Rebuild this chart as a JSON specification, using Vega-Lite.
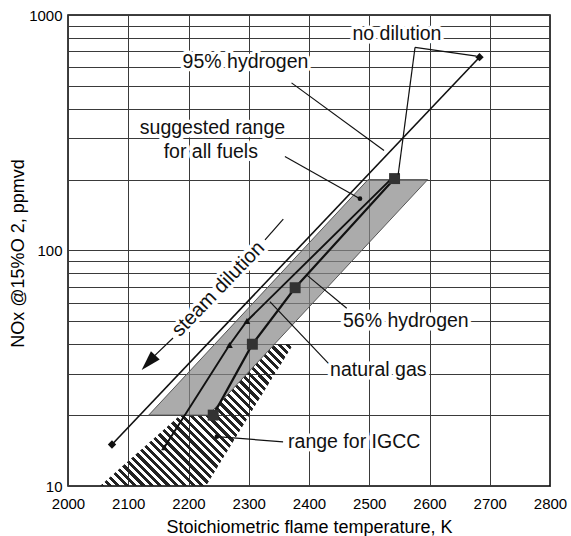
{
  "$schema": "https://vega.github.io/schema/vega-lite/v6.json",
  "width": 482,
  "height": 471,
  "autosize": {"type": "none"},
  "padding": {"left": 68, "top": 15, "right": 21, "bottom": 50},
  "background": "white",
  "config": {
    "view": {"stroke": "#000", "strokeWidth": 1.5},
    "font": "Liberation Sans",
    "axis": {
      "labelFont": "Liberation Sans", "titleFont": "Liberation Sans",
      "labelColor": "#000", "titleColor": "#000",
      "labelFontSize": 15, "titleFontSize": 18, "titleFontWeight": "normal",
      "ticks": false, "domain": false,
      "gridColor": "#3a3a3a", "gridWidth": 1, "gridOpacity": 1
    }
  },
  "datasets": {
    "igcc": [
      {"y": 10, "x": 2053, "x2": 2229},
      {"y": 19.99, "x": 2186, "x2": 2301},
      {"y": 20, "x": 2233, "x2": 2301},
      {"y": 40, "x": 2343, "x2": 2374}
    ],
    "suggested": [
      {"y": 20, "x": 2134, "x2": 2233},
      {"y": 200, "x": 2498, "x2": 2597}
    ],
    "series": [
      {"series": "95% hydrogen", "x": 2073, "y": 15},
      {"series": "95% hydrogen", "x": 2683, "y": 662},
      {"series": "natural gas", "x": 2160, "y": 14.6},
      {"series": "natural gas", "x": 2268, "y": 39.7},
      {"series": "natural gas", "x": 2297, "y": 50.2},
      {"series": "natural gas", "x": 2537, "y": 202},
      {"series": "56% hydrogen", "x": 2241, "y": 20},
      {"series": "56% hydrogen", "x": 2306, "y": 40},
      {"series": "56% hydrogen", "x": 2377, "y": 69.5},
      {"series": "56% hydrogen", "x": 2542, "y": 202}
    ],
    "dots": [
      {"x": 2484.6, "y": 166},
      {"x": 2247, "y": 16.2}
    ],
    "leaders": [
      {"seg": "a", "x": 2576, "y": 729}, {"seg": "a", "x": 2678, "y": 669},
      {"seg": "b", "x": 2548, "y": 210}, {"seg": "b", "x": 2576, "y": 729},
      {"seg": "c", "x": 2371, "y": 515}, {"seg": "c", "x": 2524.5, "y": 266},
      {"seg": "d", "x": 2360, "y": 250.6}, {"seg": "d", "x": 2484.6, "y": 166},
      {"seg": "e", "x": 2396, "y": 78.8}, {"seg": "e", "x": 2462.6, "y": 56.9},
      {"seg": "f", "x": 2335, "y": 60.7}, {"seg": "f", "x": 2435, "y": 32.6},
      {"seg": "g", "x": 2247, "y": 16.2}, {"seg": "g", "x": 2357, "y": 15.4},
      {"seg": "h", "x": 2327, "y": 111}, {"seg": "h", "x": 2357.3, "y": 136},
      {"seg": "i", "x": 2140, "y": 35}, {"seg": "i", "x": 2174.3, "y": 42.5}
    ],
    "arrowhead": [{"x": 2133.6, "y": 33.4}],
    "labels": [
      {"x": 2546, "y": 828, "text": "no dilution"},
      {"x": 2294.6, "y": 631, "text": "95% hydrogen"},
      {"x": 2239.8, "y": 332.5, "text": "suggested range"},
      {"x": 2237, "y": 263, "text": "for all fuels"},
      {"x": 2560.7, "y": 50, "text": "56% hydrogen"},
      {"x": 2515, "y": 31.1, "text": "natural gas"},
      {"x": 2475, "y": 15.4, "text": "range for IGCC"}
    ],
    "steam": [{"x": 2249.5, "y": 68.6, "text": "steam dilution"}]
  },
  "encoding": {
    "x": {
      "field": "x", "type": "quantitative",
      "scale": {"domain": [2000, 2800], "nice": false, "zero": false},
      "axis": {
        "title": "Stoichiometric flame temperature, K",
        "values": [2000, 2100, 2200, 2300, 2400, 2500, 2600, 2700, 2800],
        "format": "d", "labelFlush": false, "labelPadding": 10,
        "titleX": 241, "titleY": 41, "titleBaseline": "middle", "titleAlign": "center"
      }
    },
    "y": {
      "field": "y", "type": "quantitative",
      "scale": {"type": "log", "domain": [10, 1000], "nice": false},
      "axis": {
        "title": "NOx @15%O 2, ppmvd",
        "values": [10, 20, 30, 40, 50, 60, 70, 80, 90, 100, 200, 300, 400, 500, 600, 700, 800, 900, 1000],
        "format": "d",
        "labelExpr": "datum.value == 10 || datum.value == 100 || datum.value == 1000 ? datum.label : ''",
        "labelPadding": 6,
        "titleX": -50, "titleY": 238, "titleAngle": -90, "titleAlign": "center", "titleBaseline": "middle"
      }
    }
  },
  "layer": [
    {
      "data": {"name": "igcc"},
      "mark": {
        "type": "area", "orient": "horizontal",
        "fill": {
          "gradient": "linear", "x1": 0, "y1": 1, "x2": 1.127, "y2": 0.174,
          "stops": [
            {"offset": 0, "color": "#222"},
            {"offset": 0.0125, "color": "#222"}, {"offset": 0.0125, "color": "rgba(255,255,255,0)"},
            {"offset": 0.025, "color": "rgba(255,255,255,0)"}, {"offset": 0.025, "color": "#222"},
            {"offset": 0.0375, "color": "#222"}, {"offset": 0.0375, "color": "rgba(255,255,255,0)"},
            {"offset": 0.05, "color": "rgba(255,255,255,0)"}, {"offset": 0.05, "color": "#222"},
            {"offset": 0.0625, "color": "#222"}, {"offset": 0.0625, "color": "rgba(255,255,255,0)"},
            {"offset": 0.075, "color": "rgba(255,255,255,0)"}, {"offset": 0.075, "color": "#222"},
            {"offset": 0.0875, "color": "#222"}, {"offset": 0.0875, "color": "rgba(255,255,255,0)"},
            {"offset": 0.1, "color": "rgba(255,255,255,0)"}, {"offset": 0.1, "color": "#222"},
            {"offset": 0.1125, "color": "#222"}, {"offset": 0.1125, "color": "rgba(255,255,255,0)"},
            {"offset": 0.125, "color": "rgba(255,255,255,0)"}, {"offset": 0.125, "color": "#222"},
            {"offset": 0.1375, "color": "#222"}, {"offset": 0.1375, "color": "rgba(255,255,255,0)"},
            {"offset": 0.15, "color": "rgba(255,255,255,0)"}, {"offset": 0.15, "color": "#222"},
            {"offset": 0.1625, "color": "#222"}, {"offset": 0.1625, "color": "rgba(255,255,255,0)"},
            {"offset": 0.175, "color": "rgba(255,255,255,0)"}, {"offset": 0.175, "color": "#222"},
            {"offset": 0.1875, "color": "#222"}, {"offset": 0.1875, "color": "rgba(255,255,255,0)"},
            {"offset": 0.2, "color": "rgba(255,255,255,0)"}, {"offset": 0.2, "color": "#222"},
            {"offset": 0.2125, "color": "#222"}, {"offset": 0.2125, "color": "rgba(255,255,255,0)"},
            {"offset": 0.225, "color": "rgba(255,255,255,0)"}, {"offset": 0.225, "color": "#222"},
            {"offset": 0.2375, "color": "#222"}, {"offset": 0.2375, "color": "rgba(255,255,255,0)"},
            {"offset": 0.25, "color": "rgba(255,255,255,0)"}, {"offset": 0.25, "color": "#222"},
            {"offset": 0.2625, "color": "#222"}, {"offset": 0.2625, "color": "rgba(255,255,255,0)"},
            {"offset": 0.275, "color": "rgba(255,255,255,0)"}, {"offset": 0.275, "color": "#222"},
            {"offset": 0.2875, "color": "#222"}, {"offset": 0.2875, "color": "rgba(255,255,255,0)"},
            {"offset": 0.3, "color": "rgba(255,255,255,0)"}, {"offset": 0.3, "color": "#222"},
            {"offset": 0.3125, "color": "#222"}, {"offset": 0.3125, "color": "rgba(255,255,255,0)"},
            {"offset": 0.325, "color": "rgba(255,255,255,0)"}, {"offset": 0.325, "color": "#222"},
            {"offset": 0.3375, "color": "#222"}, {"offset": 0.3375, "color": "rgba(255,255,255,0)"},
            {"offset": 0.35, "color": "rgba(255,255,255,0)"}, {"offset": 0.35, "color": "#222"},
            {"offset": 0.3625, "color": "#222"}, {"offset": 0.3625, "color": "rgba(255,255,255,0)"},
            {"offset": 0.375, "color": "rgba(255,255,255,0)"}, {"offset": 0.375, "color": "#222"},
            {"offset": 0.3875, "color": "#222"}, {"offset": 0.3875, "color": "rgba(255,255,255,0)"},
            {"offset": 0.4, "color": "rgba(255,255,255,0)"}, {"offset": 0.4, "color": "#222"},
            {"offset": 0.4125, "color": "#222"}, {"offset": 0.4125, "color": "rgba(255,255,255,0)"},
            {"offset": 0.425, "color": "rgba(255,255,255,0)"}, {"offset": 0.425, "color": "#222"},
            {"offset": 0.4375, "color": "#222"}, {"offset": 0.4375, "color": "rgba(255,255,255,0)"},
            {"offset": 0.45, "color": "rgba(255,255,255,0)"}, {"offset": 0.45, "color": "#222"},
            {"offset": 0.4625, "color": "#222"}, {"offset": 0.4625, "color": "rgba(255,255,255,0)"},
            {"offset": 0.475, "color": "rgba(255,255,255,0)"}, {"offset": 0.475, "color": "#222"},
            {"offset": 0.4875, "color": "#222"}, {"offset": 0.4875, "color": "rgba(255,255,255,0)"},
            {"offset": 0.5, "color": "rgba(255,255,255,0)"}, {"offset": 0.5, "color": "#222"},
            {"offset": 0.5125, "color": "#222"}, {"offset": 0.5125, "color": "rgba(255,255,255,0)"},
            {"offset": 0.525, "color": "rgba(255,255,255,0)"}, {"offset": 0.525, "color": "#222"},
            {"offset": 0.5375, "color": "#222"}, {"offset": 0.5375, "color": "rgba(255,255,255,0)"},
            {"offset": 0.55, "color": "rgba(255,255,255,0)"}, {"offset": 0.55, "color": "#222"},
            {"offset": 0.5625, "color": "#222"}, {"offset": 0.5625, "color": "rgba(255,255,255,0)"},
            {"offset": 0.575, "color": "rgba(255,255,255,0)"}, {"offset": 0.575, "color": "#222"},
            {"offset": 0.5875, "color": "#222"}, {"offset": 0.5875, "color": "rgba(255,255,255,0)"},
            {"offset": 0.6, "color": "rgba(255,255,255,0)"}, {"offset": 0.6, "color": "#222"},
            {"offset": 0.6125, "color": "#222"}, {"offset": 0.6125, "color": "rgba(255,255,255,0)"},
            {"offset": 0.625, "color": "rgba(255,255,255,0)"}, {"offset": 0.625, "color": "#222"},
            {"offset": 0.6375, "color": "#222"}, {"offset": 0.6375, "color": "rgba(255,255,255,0)"},
            {"offset": 0.65, "color": "rgba(255,255,255,0)"}, {"offset": 0.65, "color": "#222"},
            {"offset": 0.6625, "color": "#222"}, {"offset": 0.6625, "color": "rgba(255,255,255,0)"},
            {"offset": 0.675, "color": "rgba(255,255,255,0)"}, {"offset": 0.675, "color": "#222"},
            {"offset": 0.6875, "color": "#222"}, {"offset": 0.6875, "color": "rgba(255,255,255,0)"},
            {"offset": 0.7, "color": "rgba(255,255,255,0)"}, {"offset": 0.7, "color": "#222"},
            {"offset": 0.7125, "color": "#222"}, {"offset": 0.7125, "color": "rgba(255,255,255,0)"},
            {"offset": 0.725, "color": "rgba(255,255,255,0)"}, {"offset": 0.725, "color": "#222"},
            {"offset": 0.7375, "color": "#222"}, {"offset": 0.7375, "color": "rgba(255,255,255,0)"},
            {"offset": 0.75, "color": "rgba(255,255,255,0)"}, {"offset": 0.75, "color": "#222"},
            {"offset": 0.7625, "color": "#222"}, {"offset": 0.7625, "color": "rgba(255,255,255,0)"},
            {"offset": 0.775, "color": "rgba(255,255,255,0)"}, {"offset": 0.775, "color": "#222"},
            {"offset": 0.7875, "color": "#222"}, {"offset": 0.7875, "color": "rgba(255,255,255,0)"},
            {"offset": 0.8, "color": "rgba(255,255,255,0)"}, {"offset": 0.8, "color": "#222"},
            {"offset": 0.8125, "color": "#222"}, {"offset": 0.8125, "color": "rgba(255,255,255,0)"},
            {"offset": 0.825, "color": "rgba(255,255,255,0)"}, {"offset": 0.825, "color": "#222"},
            {"offset": 0.8375, "color": "#222"}, {"offset": 0.8375, "color": "rgba(255,255,255,0)"},
            {"offset": 0.85, "color": "rgba(255,255,255,0)"}, {"offset": 0.85, "color": "#222"},
            {"offset": 0.8625, "color": "#222"}, {"offset": 0.8625, "color": "rgba(255,255,255,0)"},
            {"offset": 0.875, "color": "rgba(255,255,255,0)"}, {"offset": 0.875, "color": "#222"},
            {"offset": 0.8875, "color": "#222"}, {"offset": 0.8875, "color": "rgba(255,255,255,0)"},
            {"offset": 0.9, "color": "rgba(255,255,255,0)"}, {"offset": 0.9, "color": "#222"},
            {"offset": 0.9125, "color": "#222"}, {"offset": 0.9125, "color": "rgba(255,255,255,0)"},
            {"offset": 0.925, "color": "rgba(255,255,255,0)"}, {"offset": 0.925, "color": "#222"},
            {"offset": 0.9375, "color": "#222"}, {"offset": 0.9375, "color": "rgba(255,255,255,0)"},
            {"offset": 0.95, "color": "rgba(255,255,255,0)"}, {"offset": 0.95, "color": "#222"},
            {"offset": 0.9625, "color": "#222"}, {"offset": 0.9625, "color": "rgba(255,255,255,0)"},
            {"offset": 0.975, "color": "rgba(255,255,255,0)"}, {"offset": 0.975, "color": "#222"},
            {"offset": 0.9875, "color": "#222"}, {"offset": 0.9875, "color": "rgba(255,255,255,0)"},
            {"offset": 1, "color": "rgba(255,255,255,0)"}
          ]
        }
      },
      "encoding": {"x2": {"field": "x2"}}
    },
    {
      "data": {"name": "suggested"},
      "mark": {"type": "area", "orient": "horizontal", "fill": "#888", "fillOpacity": 0.7, "stroke": "#555", "strokeWidth": 1},
      "encoding": {"x2": {"field": "x2"}}
    },
    {
      "data": {"name": "series"},
      "mark": {"type": "line", "color": "#111"},
      "encoding": {
        "detail": {"field": "series", "type": "nominal"},
        "strokeWidth": {"field": "series", "type": "nominal", "scale": {"domain": ["95% hydrogen", "natural gas", "56% hydrogen"], "range": [1.6, 2.2, 1.6]}, "legend": null}
      }
    },
    {
      "data": {"name": "series"},
      "transform": [{"filter": "datum.series == '95% hydrogen'"}],
      "mark": {"type": "point", "shape": "diamond", "filled": true, "color": "#111", "size": 70, "opacity": 1}
    },
    {
      "data": {"name": "series"},
      "transform": [{"filter": "datum.series == 'natural gas'"}],
      "mark": {"type": "point", "shape": "triangle-up", "filled": true, "color": "#111", "size": 45, "opacity": 1}
    },
    {
      "data": {"name": "series"},
      "transform": [{"filter": "datum.series == '56% hydrogen'"}],
      "mark": {"type": "point", "shape": "square", "filled": true, "color": "#333", "size": 120, "opacity": 1}
    },
    {
      "data": {"name": "dots"},
      "mark": {"type": "point", "shape": "circle", "filled": true, "color": "#111", "size": 22, "opacity": 1}
    },
    {
      "data": {"name": "leaders"},
      "mark": {"type": "line", "color": "#111", "strokeWidth": 1.2},
      "encoding": {"detail": {"field": "seg", "type": "nominal"}}
    },
    {
      "data": {"name": "arrowhead"},
      "mark": {"type": "point", "shape": "M0,-1L0.6,1L-0.6,1Z", "filled": true, "color": "#111", "size": 400, "angle": 223, "opacity": 1}
    },
    {
      "data": {"name": "labels"},
      "mark": {"type": "text", "fontSize": 19.5, "font": "Liberation Sans", "fill": "white", "stroke": "white", "strokeWidth": 7, "strokeJoin": "round", "align": "center", "baseline": "middle"},
      "encoding": {"text": {"field": "text"}}
    },
    {
      "data": {"name": "labels"},
      "mark": {"type": "text", "fontSize": 19.5, "font": "Liberation Sans", "fill": "#111", "align": "center", "baseline": "middle"},
      "encoding": {"text": {"field": "text"}}
    },
    {
      "data": {"name": "steam"},
      "mark": {"type": "text", "fontSize": 20, "font": "Liberation Sans", "angle": -46, "fill": "white", "stroke": "white", "strokeWidth": 7, "strokeJoin": "round", "align": "center", "baseline": "middle"},
      "encoding": {"text": {"field": "text"}}
    },
    {
      "data": {"name": "steam"},
      "mark": {"type": "text", "fontSize": 20, "font": "Liberation Sans", "angle": -46, "fill": "#111", "align": "center", "baseline": "middle"},
      "encoding": {"text": {"field": "text"}}
    }
  ]
}
